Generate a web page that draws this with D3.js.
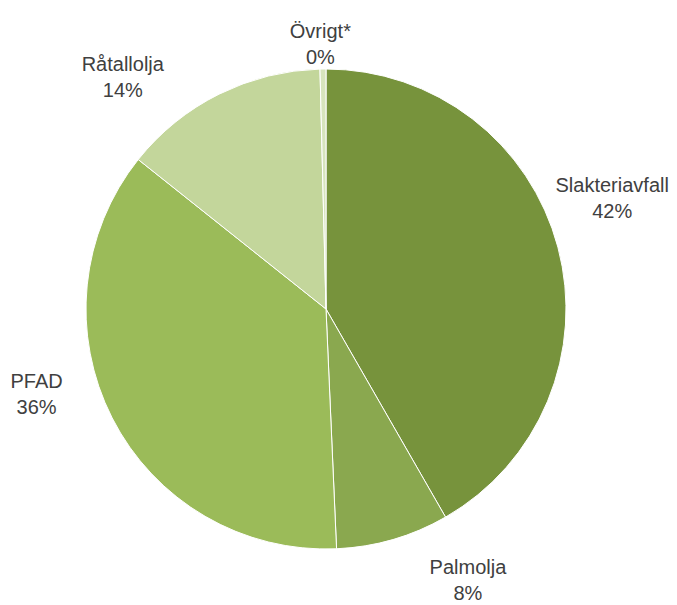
<!DOCTYPE html>
<html>
<head>
<meta charset="utf-8">
<script src="https://cdn.jsdelivr.net/npm/d3@7"></script>
<style>
  body { margin: 0; background: #fff; }
  svg { display: block; }
</style>
</head>
<body>
<svg></svg>
<script>
const WIDTH = 677;
const HEIGHT = 605;

// data
var categories = ['Slakteriavfall', 'Palmolja', 'PFAD', 'Råtallolja', 'Övrigt*'];
var shares = [41.7, 7.6, 36.4, 13.9, 0.4];
var percentLabels = ['42%', '8%', '36%', '14%', '0%'];
var colors = ['#77933c', '#8aa84f', '#9bbb59', '#c3d69b', '#d7e4bd'];

// label placement tweaks (layout only)
var labelNudge = [[6, -29], [61, 0], [-31, -40], [-74, 35], [-2, 32]];

var cx = 326, cy = 309, radius = 240, labelR = 290;

var svg = d3.select('svg')
    .attr('width', WIDTH)
    .attr('height', HEIGHT);

var rows = categories.map(function(c, i) {
    return { name: c, value: shares[i], pct: percentLabels[i], color: colors[i], i: i };
});

var pie = d3.pie()
    .sort(null)
    .value(function(d) { return d.value; });

var arc = d3.arc().innerRadius(0).outerRadius(radius);
var labelArc = d3.arc().innerRadius(labelR).outerRadius(labelR);

var g = svg.append('g').attr('transform', 'translate(' + cx + ',' + cy + ')');

var arcs = pie(rows);

g.selectAll('path')
    .data(arcs)
    .enter()
    .append('path')
    .attr('d', arc)
    .attr('fill', function(d) { return d.data.color; })
    .attr('stroke', '#fff')
    .attr('stroke-width', 1);

//labels
var lab = g.selectAll('g.lab')
    .data(arcs)
    .enter()
    .append('g')
    .attr('class', 'lab')
    .attr('transform', function(d) {
        var c = labelArc.centroid(d);
        var n = labelNudge[d.data.i];
        return 'translate(' + (c[0] + n[0]) + ',' + (c[1] + n[1]) + ')';
    });

var text = lab.append('text')
    .attr('text-anchor', 'middle')
    .style('font-family', '"Liberation Sans", Arial, sans-serif')
    .style('font-size', '20px')
    .attr('fill', '#404040');

text.append('tspan')
    .attr('x', 0)
    .attr('y', -13)
    .text(function(d) { return d.data.name; });

text.append('tspan')
    .attr('x', 0)
    .attr('y', 13)
    .text(function(d) { return d.data.pct; });
</script>
</body>
</html>
